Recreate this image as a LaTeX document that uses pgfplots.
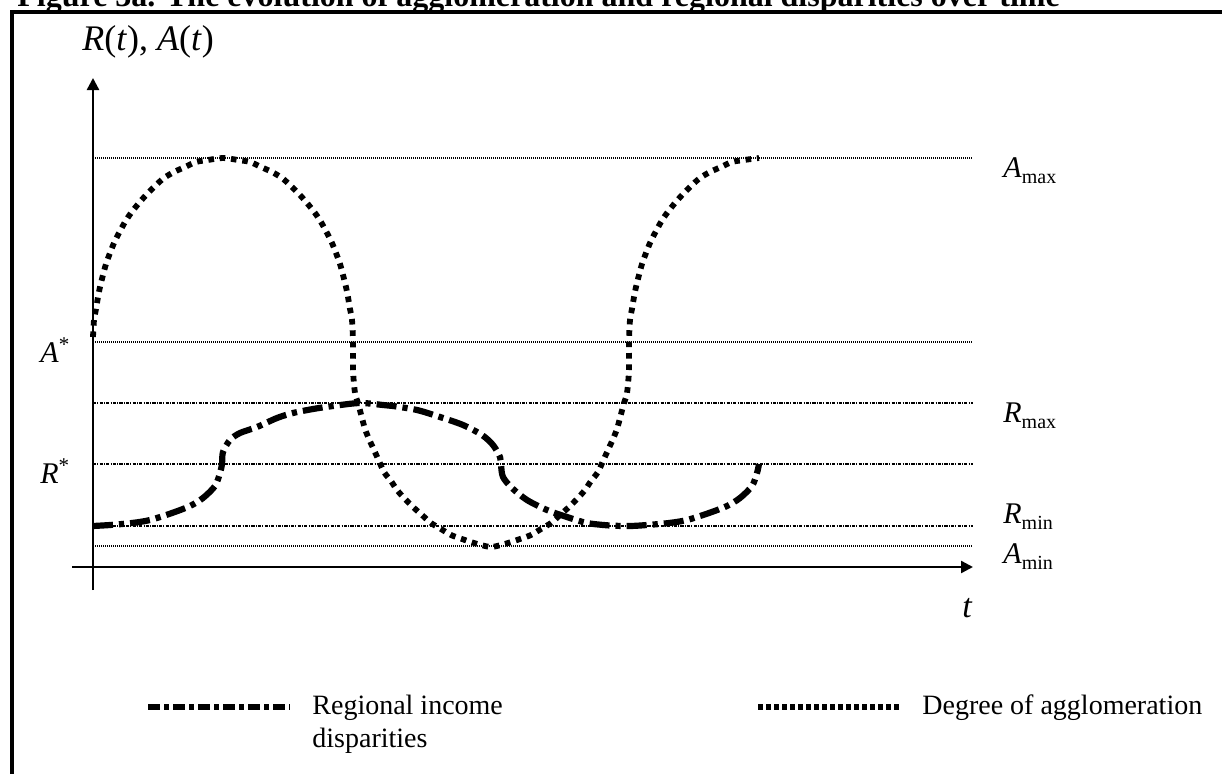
\documentclass[border=0pt]{standalone}
\usepackage{fontspec}
\setmainfont{Liberation Serif}
\usepackage{pgfplots}
\pgfplotsset{compat=1.18}
\usetikzlibrary{arrows.meta}

% dash styles
\tikzset{
  agglo/.style={line width=2.9pt, dash pattern=on 2.8pt off 2.9pt},
  regio/.style={line width=3.1pt, dash pattern=on 10pt off 3pt on 2.6pt off 3pt},
  aref/.style={line width=0.6pt, dash pattern=on 0.5pt off 0.5pt},
  rref/.style={line width=0.6pt, dash pattern=on 1.6pt off 0.6pt on 0.5pt off 0.6pt},
}
\newcommand{\lab}[1]{\fontsize{15}{18}\selectfont #1}
\newcommand{\sub}[1]{\raisebox{-3pt}{\fontsize{10}{12}\selectfont #1}}

\begin{document}
\begin{tikzpicture}
\begin{axis}[
    scale only axis,
    width=611pt, height=386.5pt,
    xmin=-93, xmax=1129,
    ymin=-206, ymax=567,
    hide axis,
    clip=false,
]
\coordinate (sw) at (rel axis cs:0,0);
\coordinate (ne) at (rel axis cs:1,1);

% frame and title
\draw[line width=2pt] (axis cs:-81,-230) -- (axis cs:-81,555) -- (axis cs:1150,555);
\node[anchor=base west, font=\fontsize{16}{18}\selectfont\bfseries, inner sep=0pt]
  at (axis cs:-76,561) {Figure 3a. The evolution of agglomeration and regional disparities over time};

% reference levels
\addplot[aref, forget plot] coordinates {(0,409) (879,409)};
\addplot[aref, forget plot] coordinates {(0,225) (879,225)};
\addplot[rref, forget plot] coordinates {(0,164) (880,164)};
\addplot[rref, forget plot] coordinates {(0,103) (880,103)};
\addplot[rref, forget plot] coordinates {(0,41) (880,41)};
\addplot[aref, forget plot] coordinates {(0,21) (879,21)};

% axes
\draw[line width=1.2pt, -{Triangle[length=6pt,width=6pt]}] (axis cs:-21,0) -- (axis cs:880,0);
\draw[line width=1.2pt, -{Triangle[length=6pt,width=6pt]}] (axis cs:0,-23) -- (axis cs:0,489);

% degree of agglomeration A(t)
\addplot[agglo, smooth, tension=0.5] coordinates {
(0,230) (1,247) (3,258) (5,270) (7,280) (10,292) (13,303) (17,314) (21,324)
(26,334) (32,345) (38,354) (46,364) (54,373) (62,381) (71,389) (81,395)
(92,400) (103,405) (115,407) (130,409)
(145,407) (157,405) (168,400) (179,395) (189,389) (198,381) (206,373)
(214,364) (222,354) (228,345) (234,334) (239,324) (243,314) (247,303)
(250,292) (253,280) (255,270) (257,258) (259,247) (260,225) (260,197)
(262,174) (265,164) (269,149) (272,138) (276,128) (281,117) (286,106)
(291,95) (298,86) (304,77) (312,68) (320,60) (329,52) (338,44) (348,38)
(358,32) (369,28) (381,24) (392,21) (398,20)
(404,21) (415,24) (427,28) (438,32) (448,38) (458,44) (467,52) (476,60)
(484,68) (492,77) (498,86) (505,95) (510,106) (515,117) (520,128)
(524,138) (527,149) (531,164) (534,174) (536,197) (536,225)
(537,247) (539,258) (541,270) (543,280) (546,292) (549,303) (553,314)
(557,324) (562,334) (568,345) (574,354) (582,364) (590,373) (598,381)
(607,389) (617,395) (628,400) (639,405) (651,407) (666,409)
};

% regional income disparities R(t)
\addplot[regio, smooth, tension=0.5] coordinates {
(0,41) (17,42) (39,44) (57,47) (79,54) (97,61) (110,69) (122,81) (127,94)
(129,103) (130,115) (137,127) (147,134) (164,140) (184,149) (200,154)
(220,158) (240,161) (267,164) (290,162) (300,161) (324,157) (347,150)
(370,142) (389,132) (400,122) (407,110) (408,102) (410,90) (419,79)
(434,67) (454,57) (474,50) (494,44) (517,41.5) (537,41)
(554,42) (576,44) (594,47) (616,54) (634,61) (647,69) (659,81) (664,94)
(666,103)
};

% labels
\node[anchor=base west, inner sep=0pt] at (axis cs:-11,517)
  {\fontsize{18}{21}\selectfont\textit{R}(\textit{t}), \textit{A}(\textit{t})};
\node[anchor=base west, inner sep=0pt] at (axis cs:910,390) {\lab{\textit{A}}\sub{max}};
\node[anchor=base west, inner sep=0pt] at (axis cs:910,145) {\lab{\textit{R}}\sub{max}};
\node[anchor=base west, inner sep=0pt] at (axis cs:910,44) {\lab{\textit{R}}\sub{min}};
\node[anchor=base west, inner sep=0pt] at (axis cs:910,4) {\lab{\textit{A}}\sub{min}};
\node[anchor=base west, inner sep=0pt] at (axis cs:-53,205) {\lab{\textit{A}\textsuperscript{*}}};
\node[anchor=base west, inner sep=0pt] at (axis cs:-53,84) {\lab{\textit{R}\textsuperscript{*}}};
\node[anchor=base west, inner sep=0pt] at (axis cs:869,-50) {\fontsize{17}{20}\selectfont\textit{t}};

% legend
\draw[regio, dash pattern=on 6pt off 2pt on 2.5pt off 2pt] (axis cs:55,-140) -- (axis cs:197,-140);
\node[anchor=base west, inner sep=0pt, font=\fontsize{14}{16.5}\selectfont]
  at (axis cs:219,-147) {Regional income};
\node[anchor=base west, inner sep=0pt, font=\fontsize{14}{16.5}\selectfont]
  at (axis cs:219,-180) {disparities};
\draw[agglo, dash pattern=on 2.5pt off 1.5pt] (axis cs:665,-140) -- (axis cs:809,-140);
\node[anchor=base west, inner sep=0pt, font=\fontsize{14}{16.5}\selectfont]
  at (axis cs:829,-147) {Degree of agglomeration};
\end{axis}
\pgfresetboundingbox
\useasboundingbox (sw) rectangle (ne);
\end{tikzpicture}
\end{document}
